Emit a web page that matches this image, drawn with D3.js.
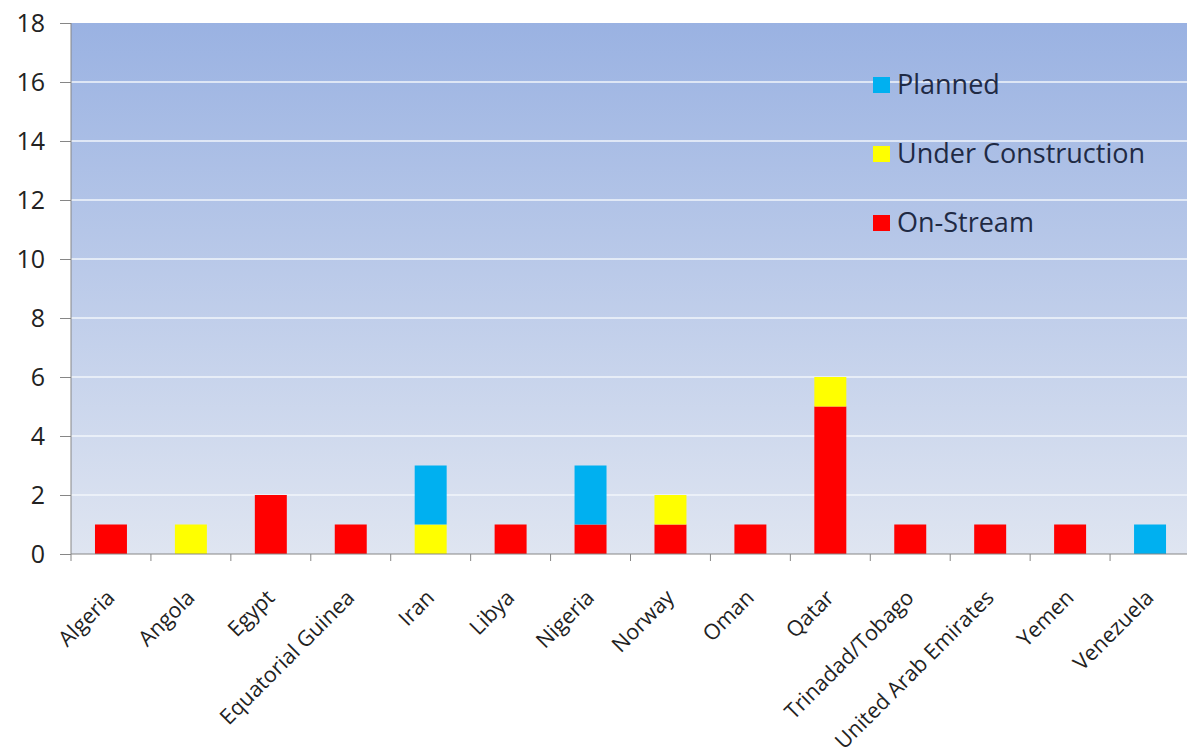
<!DOCTYPE html>
<html><head><meta charset="utf-8">
<script src="https://cdn.jsdelivr.net/npm/d3@7"></script>
<style>body{margin:0;background:#fff}svg{display:block}</style>
</head><body>
<svg id="c" width="1187" height="756"></svg>
<script>
const categories = ["Algeria","Angola","Egypt","Equatorial Guinea","Iran","Libya","Nigeria","Norway","Oman","Qatar","Trinadad/Tobago","United Arab Emirates","Yemen","Venezuela"];
const onStream = [1,0,2,1,0,1,1,1,1,5,1,1,1,0];
const underConstruction = [0,1,0,0,1,0,0,1,0,1,0,0,0,0];
const planned = [0,0,0,0,2,0,2,0,0,0,0,0,0,1];
const seriesNames = ["On-Stream","Under Construction","Planned"];
const seriesColors = ["#ff0000","#ffff00","#00b0f0"];
const yTicks = [0,2,4,6,8,10,12,14,16,18];

const svg = d3.select("#c");
const L = 71, R = 1190, T = 23, B = 554;
const x = d3.scaleBand().domain(categories).range([L, R]).paddingInner(0.6).paddingOuter(0.3);
const xs = d3.scaleBand().domain(categories).range([L, R]);
const y = d3.scaleLinear().domain([0,18]).range([B, T]);

const defs = svg.append("defs");
const g = defs.append("linearGradient").attr("id","bg").attr("x1",0).attr("y1",0).attr("x2",0).attr("y2",1);
g.append("stop").attr("offset","0%").attr("stop-color","#9ab2e2");
g.append("stop").attr("offset","100%").attr("stop-color","#dfe5f1");
svg.append("rect").attr("x",L).attr("y",T).attr("width",R-L).attr("height",B-T).attr("fill","url(#bg)");

// gridlines
svg.append("g").selectAll("line").data(yTicks.filter(d=>d>0 && d<18)).join("line")
  .attr("x1",L).attr("x2",R).attr("y1",d=>y(d)).attr("y2",d=>y(d))
  .attr("stroke","#f2f6fb").attr("stroke-width",1.5);

// bars
const rows = categories.map((c,i)=>({cat:c,"On-Stream":onStream[i],"Under Construction":underConstruction[i],"Planned":planned[i]}));
const stack = d3.stack().keys(seriesNames)(rows);
svg.append("g").selectAll("g").data(stack).join("g")
  .attr("fill",(d,i)=>seriesColors[i])
  .selectAll("rect").data(d=>d.filter(p=>p[1]>p[0])).join("rect")
  .attr("x",d=>x(d.data.cat)).attr("width",x.bandwidth())
  .attr("y",d=>y(d[1])).attr("height",d=>y(d[0])-y(d[1]));

// y axis
const yAxis = d3.axisLeft(y).tickValues(yTicks).tickSize(11).tickPadding(15);
const ya = svg.append("g").attr("transform",`translate(${L},0)`).call(yAxis);
ya.select(".domain").attr("stroke","#868686").attr("d",`M0,${T}V${B}`);
ya.selectAll(".tick line").attr("stroke","#868686");
ya.selectAll(".tick text").attr("font-family","'Open Sans', sans-serif").attr("font-size",25).attr("fill","#222");

// x axis
const xAxis = d3.axisBottom(xs).tickSize(0).tickFormat("");
const xa = svg.append("g").attr("transform",`translate(0,${B})`).call(xAxis);
xa.select(".domain").attr("stroke","#868686").attr("d",`M${L},0H${R}`);
xa.selectAll(".tick").remove();
xa.selectAll("line.t").data(categories.concat(["__end"])).join("line").attr("class","t")
  .attr("x1",(d,i)=>L+i*xs.bandwidth()).attr("x2",(d,i)=>L+i*xs.bandwidth())
  .attr("y1",0).attr("y2",7).attr("stroke","#868686");
xa.selectAll("text.lab").data(categories).join("text").attr("class","lab")
  .attr("transform",d=>`translate(${xs(d)+xs.bandwidth()/2+5},${45}) rotate(-45)`)
  .attr("text-anchor","end")
  .attr("font-family","'Open Sans', sans-serif").attr("font-size",21.5).attr("fill","#222")
  .text(d=>d);

// legend
const legendOrder = [2,1,0];
const lg = svg.append("g");
legendOrder.forEach((si,k)=>{
  const cy = 85 + k*69;
  lg.append("rect").attr("x",873).attr("y",cy-8).attr("width",17).attr("height",16).attr("fill",seriesColors[si]);
  lg.append("text").attr("x",897).attr("y",cy).attr("dy","0.35em")
    .attr("font-family","'Open Sans', sans-serif").attr("font-size",27).attr("fill","#1f2a44")
    .text(seriesNames[si]);
});
</script>
</body></html>
